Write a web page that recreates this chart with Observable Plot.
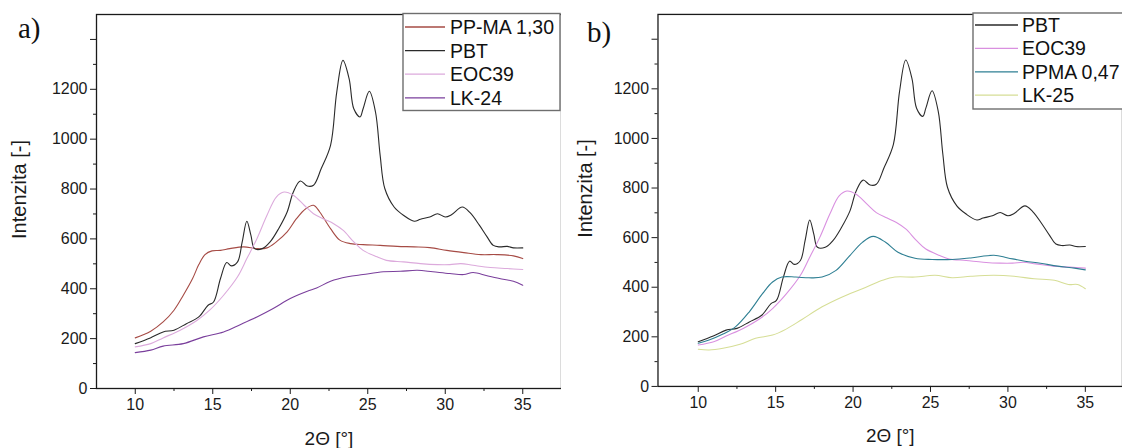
<!DOCTYPE html>
<html><head><meta charset="utf-8">
<script src="https://cdn.jsdelivr.net/npm/d3@7"></script>
<script src="https://cdn.jsdelivr.net/npm/@observablehq/plot@0.6"></script>
<style>
body{margin:0;background:#fff;}
#wrap{display:flex;width:1122px;height:448px;}
.panel{position:relative;width:561px;height:448px;overflow:hidden;}
.overlay{position:absolute;left:0;top:0;pointer-events:none;}
</style></head><body>
<div id="wrap"><div class="panel" id="pa"></div><div class="panel" id="pb"></div></div>
<script>
// ---- data (2θ in degrees, intensity) ----
const pbtX = [10,10.97,11.8,12.5,13.3,14.1,14.7,15.05,15.5,15.9,16.2,16.6,16.9,17.2,17.46,17.7,18.2,18.7,19.25,19.8,20.2,20.65,21.1,21.5,22.0,22.6,23.0,23.4,23.8,24.1,24.5,24.7,25.1,25.5,25.8,26.1,26.7,27.3,28.0,28.4,29.0,29.5,30.0,30.4,31.1,31.6,32.2,32.7,33.1,33.5,34.0,34.4,35];
const pbtY = [180,203,227,234,260,287,334,347,441,505,492,508,588,671,615,561,561,588,641,708,788,832,812,815,882,975,1189,1316,1242,1122,1089,1122,1192,1109,935,802,728,695,671,679,688,701,688,697,728,705,655,608,574,568,570,564,564];

const ppma130X = [10,11,11.8,12.5,13.1,13.7,14.1,14.5,14.95,15.5,16.1,17.0,17.85,18.5,19.1,19.8,20.4,21.0,21.5,21.9,22.6,23.2,23.9,24.7,25.8,26.9,28.0,29.0,30.1,31.2,32.3,33.3,34.4,35];
const ppma130Y = [203,230,267,314,374,441,497,537,552,554,561,568,561,564,588,628,681,721,735,708,641,595,581,577,574,570,568,565,554,545,537,537,532,521];

const eocX = [10,11,11.8,12.9,14.0,14.8,15.7,16.6,17.2,17.85,18.5,19.1,19.6,20.2,20.9,21.5,22.2,22.8,23.4,24.1,24.7,25.6,26.2,27.3,28.4,29.5,30.3,31.0,31.8,32.9,34.0,35];
const eocY = [167,180,203,234,274,314,374,448,521,601,695,768,788,775,735,701,679,661,635,588,554,528,514,508,501,497,497,501,494,485,481,477];

const lk24X = [10,11,11.8,13.1,14.4,15.7,16.8,17.85,18.9,20.0,21.1,21.7,22.6,23.7,24.7,26.0,27.1,28.2,29.2,30.3,31.2,31.8,32.7,33.5,34.4,35];
const lk24Y = [144,154,170,180,207,227,257,287,321,361,390,403,430,448,457,468,470,474,468,461,457,465,452,441,430,414];

const ppma047X = [10,10.7,11.6,12.4,13.3,14.15,14.8,15.4,16.3,17.15,18.0,18.9,19.7,20.6,21.3,22.1,22.9,24.0,25.1,26.4,27.6,29.1,30.0,31.1,32.1,33.2,34.3,35];
const ppma047Y = [174,187,211,240,301,374,421,441,441,438,441,468,521,581,605,581,541,517,512,512,518,529,518,505,497,485,477,470];

const lk25X = [10,10.7,11.6,12.7,13.7,14.8,15.65,16.7,18.0,19.3,20.6,21.9,22.7,24.0,25.3,26.4,27.6,29.1,30.4,31.7,33.0,33.9,34.5,35];
const lk25Y = [150,147,154,170,194,207,230,270,321,361,394,428,441,441,448,438,444,448,444,434,428,411,411,394];

// ---- labels & ticks ----
const panelTags = ["a)", "b)"];
const namesA = ["PP-MA 1,30", "PBT", "EOC39", "LK-24"];
const colorsA = ["#a64b45", "#2a2a2a", "#dcaadc", "#7a3f9c"];
const namesB = ["PBT", "EOC39", "PPMA 0,47", "LK-25"];
const colorsB = ["#2a2a2a", "#d990e0", "#2e7f93", "#d6de96"];
const xTicks = [10, 15, 20, 25, 30, 35];
const xMinorTicks = [12.5, 17.5, 22.5, 27.5, 32.5];
const yTicks = [0, 200, 400, 600, 800, 1000, 1200, 1400];
const yTickLabels = ["0", "200", "400", "600", "800", "1000", "1200", ""];
const yMinorTicks = [100, 300, 500, 700, 900, 1100, 1300];
const xTitle = "2Θ [°]";
const yTitle = "Intenzita [-]";

const seriesA = [
  {name: "PP-MA 1,30", x: ppma130X, y: ppma130Y},
  {name: "PBT", x: pbtX, y: pbtY},
  {name: "EOC39", x: eocX, y: eocY},
  {name: "LK-24", x: lk24X, y: lk24Y}
];
const seriesB = [
  {name: "PBT", x: pbtX, y: pbtY},
  {name: "EOC39", x: eocX, y: eocY},
  {name: "PPMA 0,47", x: ppma047X, y: ppma047Y},
  {name: "LK-25", x: lk25X, y: lk25Y}
];

function makePanel(el, cfg) {
  const rows = cfg.series.flatMap(s => s.x.map((x, i) => ({x, y: s.y[i], name: s.name})));
  const chart = Plot.plot({
    width: cfg.width, height: 448,
    marginTop: 14, marginBottom: 60, marginLeft: cfg.marginLeft, marginRight: 0,
    style: {fontFamily: '"Liberation Sans", Arial, sans-serif', fontSize: "16px", color: "#1a1a1a", background: "transparent", overflow: "visible"},
    x: {domain: cfg.xDomain},
    y: {domain: [0, 1500]},
    color: {domain: cfg.names, range: cfg.colors},
    marks: [
      Plot.axisX(xTicks, {tickSize: 6, tickPadding: 4, label: null, fontSize: 16}),
      Plot.axisX(xMinorTicks, {tickSize: 3, tickFormat: () => "", label: null}),
      Plot.axisY(yTicks, {tickSize: 6, tickPadding: 3, label: null, fontSize: 16, tickFormat: d => yTickLabels[yTicks.indexOf(d)]}),
      Plot.axisY(yMinorTicks, {tickSize: 3, tickFormat: () => "", label: null}),
      Plot.line(rows, {x: "x", y: "y", z: "name", stroke: "name", strokeWidth: 1.1, curve: "catmull-rom"}),
      Plot.frame({stroke: "#1a1a1a", strokeWidth: 1.3}),
      Plot.text([xTitle], {frameAnchor: "bottom", textAnchor: "middle", lineAnchor: "middle", dy: 50, fontSize: 19}),
      Plot.text([yTitle], {frameAnchor: "left", textAnchor: "middle", lineAnchor: "middle", dx: cfg.yTitleDx, dy: -12, rotate: -90, fontSize: 20})
    ]
  });
  el.appendChild(chart);

  // overlay: panel tag + legend
  const svg = d3.select(el).append("svg").attr("class", "overlay")
    .attr("width", 561).attr("height", 448);
  svg.append("text").text(cfg.tag)
    .attr("x", cfg.tagX).attr("y", cfg.tagY)
    .attr("font-family", '"Liberation Serif", "Times New Roman", serif')
    .attr("font-size", 29).attr("fill", "#111");
  const L = cfg.legend;
  svg.append("rect").attr("x", L.x).attr("y", L.y).attr("width", L.w).attr("height", L.h)
    .attr("fill", "#fff").attr("stroke", "#6e6e6e").attr("stroke-width", 1.4);
  cfg.names.forEach((n, i) => {
    const yy = L.row0 + i * L.dy;
    svg.append("line").attr("x1", L.lx1).attr("x2", L.lx2).attr("y1", yy).attr("y2", yy)
      .attr("stroke", cfg.colors[i]).attr("stroke-width", 1.3);
    svg.append("text").text(n).attr("x", L.tx).attr("y", yy).attr("dy", "0.36em")
      .attr("font-family", '"Liberation Sans", Arial, sans-serif').attr("font-size", 19.5).attr("fill", "#111");
  });
}

makePanel(document.getElementById("pa"), {
  series: seriesA, names: namesA, colors: colorsA, width: 561, marginLeft: 96,
  xDomain: [7.5, 37.5], yTitleDx: -77, tag: panelTags[0], tagX: 18, tagY: 38,
  legend: {x: 403, y: 13.5, w: 157, h: 97, row0: 27, dy: 23.6, lx1: 405, lx2: 445, tx: 450}
});
makePanel(document.getElementById("pb"), {
  series: seriesB, names: namesB, colors: colorsB, width: 564, marginLeft: 97,
  xDomain: [7.4, 37.4], yTitleDx: -73, tag: panelTags[1], tagX: 26, tagY: 42,
  legend: {x: 412, y: 13, w: 170, h: 96, row0: 25, dy: 23.4, lx1: 414, lx2: 457, tx: 461}
});
</script>
</body></html>
